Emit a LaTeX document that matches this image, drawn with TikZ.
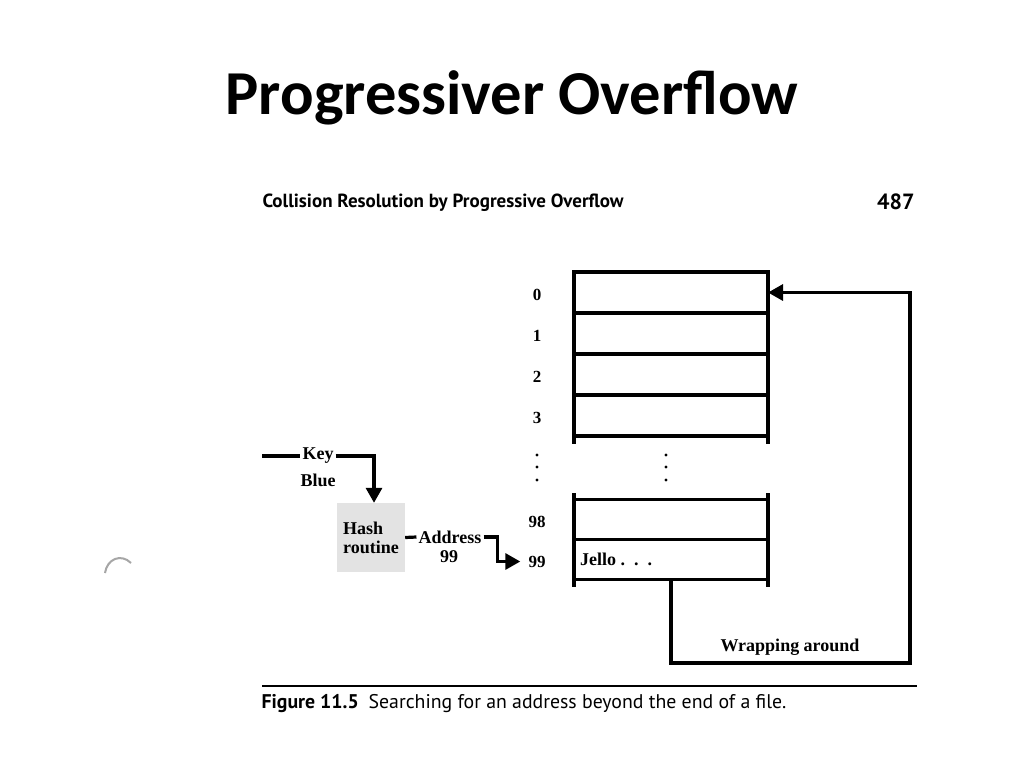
\documentclass[tikz,border=0pt]{standalone}
\usepackage{fontspec}
\setmainfont{Liberation Serif}
\newfontfamily\titlefont{Carlito}
\newfontfamily\headfont{PT Sans}
\usetikzlibrary{positioning, arrows.meta}
\tikzstyle{cell} = [rectangle, draw=black, line width=3.2pt, minimum width=194pt, minimum height=41pt, outer sep=0pt, inner sep=0pt]
\tikzstyle{idx} = [font=\bfseries\fontsize{17}{19}\selectfont, inner sep=0pt]
\tikzstyle{lbl} = [font=\bfseries\fontsize{18}{19}\selectfont, inner sep=2pt]
\tikzstyle{wire} = [line width=3.2pt]
\tikzstyle{arrow} = [line width=3.2pt,-{Triangle[length=15pt,width=16pt]}]

\begin{document}
\begin{tikzpicture}[x=1pt, y=-1pt]
    \useasboundingbox [fill=white] (0,0) rectangle (1024,768);
    \node (title) [font=\titlefont\bfseries\fontsize{62.5}{68}\selectfont] at (512,98) {Progressiver Overflow};
    \node (head) [font=\headfont\bfseries\fontsize{19}{21}\selectfont, anchor=west] at (259,203)
        {Collision Resolution by Progressive Overflow};
    \node (page) [font=\headfont\bfseries\fontsize{22}{24}\selectfont, anchor=east] at (918,202) {487};

    % the file
    \node (r0) [cell] at (671,292.5) {};
    \node (r1) [cell, below=0pt of r0] {};
    \node (r2) [cell, below=0pt of r1] {};
    \node (r3) [cell, below=0pt of r2] {};
    \node (r98) [cell, minimum height=40pt] at (671,519.5) {};
    \node (r99) [cell, minimum height=40pt, below=0pt of r98] {};
    \node (jello) [lbl, anchor=west] at ([xshift=4pt]r99.west) {Jello\ .\ \ .\ \ .};
    \foreach \r/\t in {r0/0, r1/1, r2/2, r3/3, r98/98, r99/99}
        \node (n\t) [idx] at ([xshift=-37pt,yshift=-2pt]\r.west) {\t};
    \draw [wire] (r3.south west) -- ++(0,8) (r3.south east) -- ++(0,8);
    \draw [wire] (r98.north west) -- ++(0,-7) (r98.north east) -- ++(0,-7);
    \draw [wire] (r99.south west) -- ++(0,7) (r99.south east) -- ++(0,7);
    \foreach \y in {455,467,480} {
        \fill (537,\y) circle (1.7pt);
        \fill (666,\y) circle (1.7pt);
    }

    % key and hashing
    \node (hash) [lbl, rectangle, fill=gray!22, minimum width=68pt, minimum height=69pt,
        align=left, inner sep=3pt] at (371,537.5) {Hash\\routine};
    \coordinate (src) at (262,456);
    \node (key) [lbl] at (318,456) {Key};
    \node (blue) [lbl] at (318,480) {Blue};
    \draw [wire] (src) -- (key.west);
    \draw [arrow] (key.east) -| ([xshift=3pt]hash.north);
    \node (addr) [lbl] at (450,537) {Address};
    \node (a99) [lbl] at (449,557) {99};
    \draw [wire] (hash.east) -- (addr.west);
    \draw [arrow] (addr.east) -- ++(14,0) |- ([xshift=-8pt]n99.west);

    % wrapping around
    \coordinate (turn) at (910,663);
    \draw [arrow] (r99.south) |- (turn) |- (r0.east);
    \node (wrap) [lbl] at (790,647) {Wrapping around};

    \draw [line width=1.2pt] (262,686) -- (917,686);
    \node (cap) [font=\headfont\fontsize{19.8}{22}\selectfont, anchor=west] at (258,704)
        {\textbf{Figure 11.5}\hspace{0.5em}Searching for an address beyond the end of a file.};
    \draw [gray!70, line width=2pt] (105,573) .. controls (107,559) and (121,553) .. (131,563);
\end{tikzpicture}
\end{document}
